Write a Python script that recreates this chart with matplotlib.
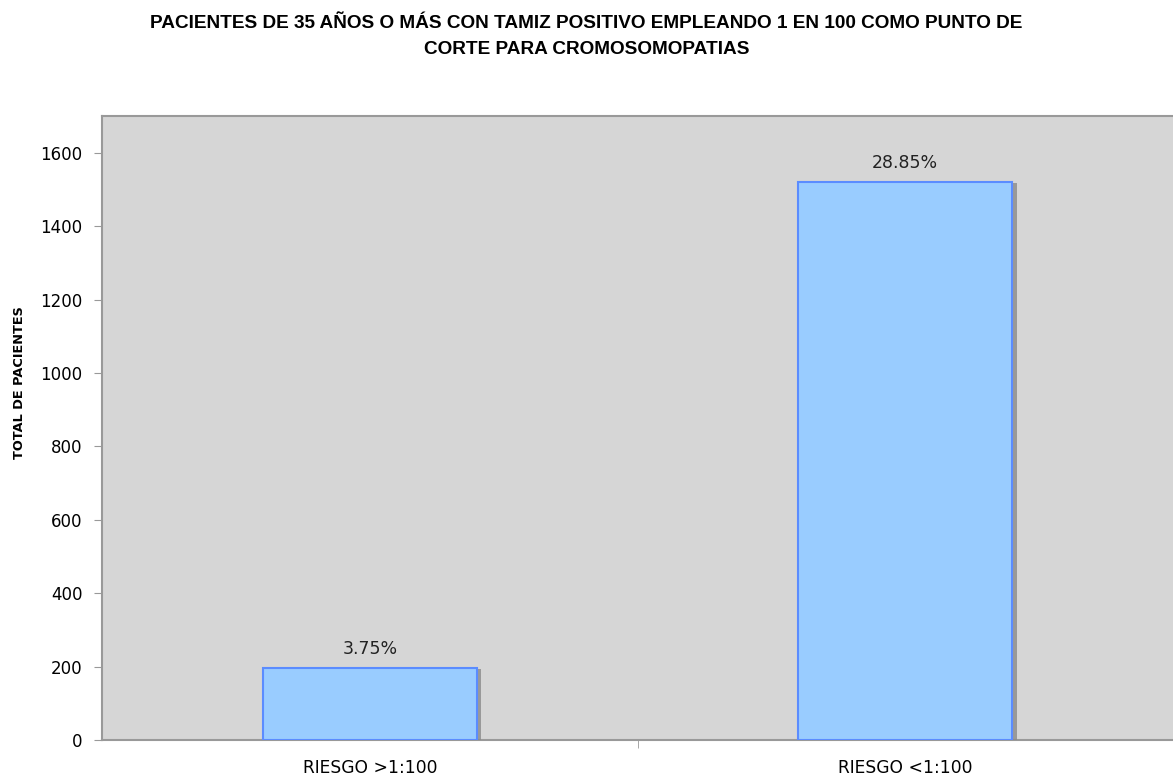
import matplotlib.pyplot as plt
import matplotlib.patheffects as pe

# Data
categorias = ["RIESGO >1:100", "RIESGO <1:100"]
pacientes = [197, 1520]
porcentajes = ["3.75%", "28.85%"]
y_ticks = [0, 200, 400, 600, 800, 1000, 1200, 1400, 1600]

fig = plt.figure(figsize=(11.73, 7.83), dpi=100)
ax = fig.add_axes([0.087, 0.0549, 0.913, 0.797])
ax.set_facecolor("#D6D6D6")

x = list(range(len(categorias)))
bars = ax.bar(x, pacientes, width=0.4, color="#99CCFF", edgecolor="#5B8CFF",
              linewidth=1.5, zorder=3)
for b in bars:
    b.set_path_effects([pe.SimplePatchShadow(offset=(3, -1), shadow_rgbFace="#8a8a8a", alpha=0.8),
                        pe.Normal()])

for xi, v, p in zip(x, pacientes, porcentajes):
    ax.annotate(p, (xi, v), xytext=(0, 7), textcoords="offset points",
                ha="center", va="bottom", fontsize=12.5, color="#222222")

ax.set_xlim(-0.5, 1.5)
ax.set_ylim(0, 1700)
ax.set_yticks(y_ticks)
ax.set_xticks(x)
ax.set_xticklabels(categorias)
ax.set_xticks([0.5], minor=True)
ax.tick_params(axis="x", which="major", length=0, pad=14, labelsize=12.3)
ax.tick_params(axis="x", which="minor", length=6, color="#999999")
ax.tick_params(axis="y", length=6, color="#999999", labelsize=12, pad=8)

for s in ax.spines.values():
    s.set_color("#999999")
    s.set_linewidth(1.5)
ax.spines["right"].set_visible(False)

# y label placed by hand so it stays inside the figure
fig.text(20 / 1173, 0.511, "TOTAL DE PACIENTES", rotation=90, ha="center", va="center",
         fontsize=9.3, fontweight="bold")

fig.text(0.5, 0.9534, "PACIENTES DE 35 AÑOS O MÁS CON TAMIZ POSITIVO EMPLEANDO 1 EN 100 COMO PUNTO DE\nCORTE PARA CROMOSOMOPATIAS",
         ha="center", va="center", fontsize=13.7, fontweight="bold",
         family=["Liberation Sans Narrow", "Liberation Sans", "DejaVu Sans"], linespacing=1.7)

fig.savefig("out.png", dpi=100)
